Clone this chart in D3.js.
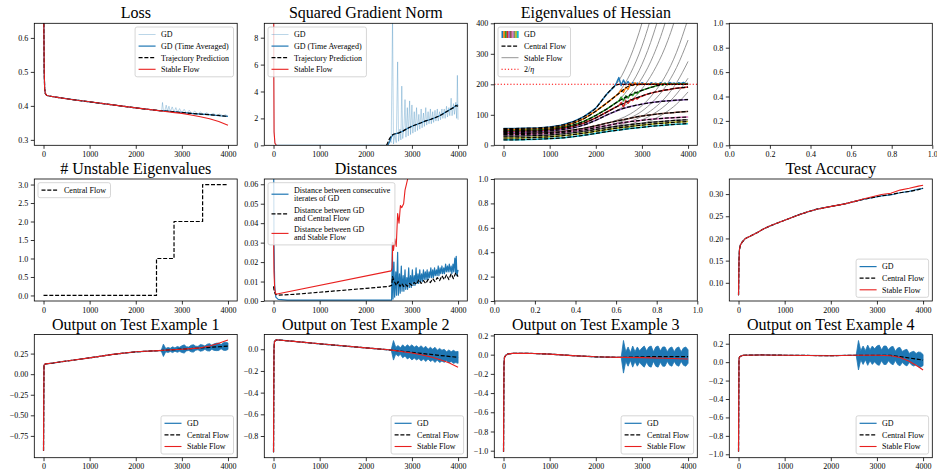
<!DOCTYPE html>
<html><head><meta charset="utf-8">
<script src="https://cdn.jsdelivr.net/npm/d3@7"></script>
<style>
body{margin:0;background:#fff}
svg text{font-family:"Liberation Serif","Times New Roman",serif;fill:#000}
</style></head>
<body><svg id="c" width="937" height="475"></svg>
<script>
// ================= DATA =================
const stepTicks = [0, 1000, 2000, 3000, 4000];
const unitTicks = [0.0, 0.2, 0.4, 0.6, 0.8, 1.0];

// ---- Loss ----
const lossSteps = [0, 8, 15, 25, 40, 70, 120, 300, 600, 1000, 1500, 2000, 2500, 2600, 2800, 3000, 3200, 3400, 3600, 3800, 4000];
const lossStable = [0.95, 0.62, 0.50, 0.45, 0.436, 0.431, 0.429, 0.425, 0.419, 0.412, 0.403, 0.394, 0.386, 0.384, 0.381, 0.378, 0.373, 0.368, 0.362, 0.354, 0.343];
const lossTrajPred = [0.95, 0.62, 0.50, 0.45, 0.436, 0.431, 0.429, 0.425, 0.419, 0.412, 0.403, 0.394, 0.386, 0.385, 0.383, 0.380, 0.378, 0.376, 0.374, 0.372, 0.369];
const lossGDAvg = [0.95, 0.62, 0.50, 0.45, 0.436, 0.431, 0.429, 0.425, 0.419, 0.412, 0.403, 0.394, 0.386, 0.386, 0.383, 0.381, 0.378, 0.376, 0.374, 0.371, 0.369];
const lossGDSteps = [0, 8, 15, 25, 40, 70, 120, 300, 600, 1000, 1500, 2000, 2500, 2560, 2580, 2600, 2630, 2660, 2690, 2720, 2750, 2790, 2830, 2870, 2910, 2950, 3000, 3050, 3100, 3160, 3220, 3280, 3340, 3400, 3470, 3540, 3610, 3680, 3750, 3820, 3890, 3950, 4000];
const lossGD = [0.95, 0.62, 0.50, 0.45, 0.436, 0.431, 0.429, 0.425, 0.419, 0.412, 0.403, 0.394, 0.386, 0.385, 0.410, 0.386, 0.385, 0.402, 0.384, 0.399, 0.383, 0.397, 0.382, 0.395, 0.381, 0.392, 0.380, 0.390, 0.378, 0.387, 0.377, 0.385, 0.375, 0.382, 0.374, 0.380, 0.373, 0.378, 0.372, 0.376, 0.371, 0.374, 0.369];
const lossTicks = [0.3, 0.4, 0.5, 0.6];

// ---- Squared gradient norm ----
const gnStableSteps = [0, 5, 12, 30, 60];
const gnStable = [40, 6, 1.0, 0.15, 0.0];
const gnTrajSteps = [2450, 2470, 2500, 2550, 2600, 2700, 2800, 2900, 3000, 3100, 3200, 3300, 3400, 3500, 3600, 3700, 3800, 3900, 3950, 4000];
const gnTraj = [0.0, 0.15, 0.4, 0.7, 0.82, 0.9, 1.05, 1.25, 1.42, 1.55, 1.68, 1.82, 1.92, 2.05, 2.2, 2.4, 2.6, 2.8, 2.95, 2.9];
const gnAvgSteps = [2480, 2520, 2560, 2600, 2700, 2800, 2900, 3000, 3100, 3200, 3300, 3400, 3500, 3600, 3700, 3800, 3900, 3950, 4000];
const gnAvg = [0.0, 0.3, 0.65, 0.82, 0.9, 1.05, 1.25, 1.42, 1.55, 1.68, 1.82, 1.92, 2.05, 2.2, 2.4, 2.6, 2.8, 2.95, 3.0];
const gnGDSteps = [0, 5, 12, 30, 80, 2480, 2520, 2550, 2580, 2600, 2630, 2660, 2690, 2710, 2740, 2760, 2780, 2800, 2830, 2850, 2870, 2900, 2920, 2950, 2970, 3000, 3020, 3050, 3070, 3100, 3120, 3150, 3170, 3200, 3220, 3250, 3270, 3300, 3320, 3350, 3370, 3400, 3420, 3450, 3470, 3500, 3520, 3550, 3570, 3600, 3620, 3650, 3670, 3700, 3720, 3750, 3770, 3800, 3820, 3850, 3870, 3900, 3920, 3950, 3970, 3985, 4000];
const gnGD = [40, 6, 1.0, 0.15, 0.03, 0.02, 0.5, 0.2, 9.5, 0.1, 0.8, 0.2, 6.2, 0.3, 1.2, 0.4, 4.4, 0.5, 1.5, 3.4, 0.6, 2.8, 0.7, 3.3, 0.8, 3.0, 0.9, 2.5, 1.0, 2.8, 1.1, 2.3, 1.2, 2.7, 1.3, 2.4, 1.4, 2.8, 1.5, 2.5, 1.6, 2.7, 1.6, 2.5, 1.7, 2.6, 1.8, 2.7, 1.8, 2.5, 1.9, 2.7, 2.0, 2.7, 2.0, 2.9, 2.1, 2.8, 2.2, 3.5, 2.2, 3.1, 2.3, 3.2, 2.0, 5.2, 1.9];
const gnTicks = [0, 2, 4, 6, 8];

// ---- Eigenvalues of Hessian ----
const eigSteps = [0, 250, 500, 750, 1000, 1250, 1500, 1750, 2000, 2250, 2500, 2750, 3000, 3250, 3500, 3750, 4000];
const eigCentral = [
  [55, 55, 56, 57, 60, 66, 77, 95, 122, 170, 200, 200, 200, 200, 200, 200, 200],
  [52, 52, 53, 54, 57, 62, 72, 88, 112, 140, 170, 196, 200, 200, 200, 200, 200],
  [48, 48, 49, 50, 53, 58, 66, 79, 98, 120, 145, 165, 180, 192, 200, 200, 200],
  [45, 45, 46, 47, 50, 55, 62, 73, 90, 110, 130, 148, 162, 173, 181, 187, 191],
  [42, 42, 43, 44, 47, 51, 57, 67, 82, 100, 116, 127, 135, 141, 145, 148, 150],
  [38, 38, 39, 40, 42, 45, 50, 56, 64, 73, 81, 89, 96, 101, 105, 108, 111],
  [35, 35, 36, 37, 39, 42, 46, 51, 58, 65, 72, 78, 82, 86, 89, 91, 93],
  [30, 30, 31, 32, 34, 37, 41, 46, 52, 58, 63, 68, 72, 76, 79, 82, 84],
  [24, 24, 25, 26, 28, 31, 35, 40, 46, 52, 57, 62, 66, 70, 73, 76, 78],
  [18, 18, 19, 20, 22, 24, 28, 33, 39, 45, 50, 55, 59, 63, 66, 69, 71]
];
const eigStable = [
  [55, 55, 56, 57, 60, 66, 77, 95, 122, 170, 212, 290, 400, 545, 740, 1000, 1350],
  [52, 52, 53, 54, 57, 62, 72, 88, 112, 140, 174, 235, 325, 450, 620, 850, 1150],
  [48, 48, 49, 50, 53, 58, 66, 79, 98, 120, 148, 195, 265, 365, 500, 690, 950],
  [45, 45, 46, 47, 50, 55, 62, 73, 90, 110, 132, 168, 220, 295, 400, 545, 740],
  [42, 42, 43, 44, 47, 51, 57, 67, 82, 100, 118, 145, 185, 242, 320, 430, 580],
  [38, 38, 39, 40, 42, 45, 50, 56, 64, 73, 85, 103, 130, 170, 225, 305, 415],
  [35, 35, 36, 37, 39, 42, 46, 51, 58, 65, 75, 90, 112, 145, 190, 255, 345],
  [30, 30, 31, 32, 34, 37, 41, 46, 52, 58, 66, 78, 95, 120, 155, 205, 275],
  [24, 24, 25, 26, 28, 31, 35, 40, 46, 52, 59, 69, 83, 103, 130, 168, 220],
  [18, 18, 19, 20, 22, 24, 28, 33, 39, 45, 51, 59, 70, 85, 106, 135, 175]
];
const eigGDSteps = [2400, 2450, 2500, 2550, 2600, 2650, 2700, 2750, 2800, 2850, 2900, 2950, 3000, 3050, 3100, 3150, 3200, 3250, 3300, 3350, 3400, 3450, 3500, 3550, 3600, 3650, 3700, 3750, 3800, 3850, 3900, 3950, 4000];
const eigGDTop = [
  [192, 205, 222, 196, 214, 199, 209, 198, 206, 200, 204, 199, 205, 201, 203, 199, 205, 201, 204, 200, 205, 201, 204, 200, 206, 202, 204, 201, 205, 202, 206, 201, 204],
  [158, 164, 170, 182, 174, 190, 184, 203, 196, 205, 197, 203, 199, 202, 200, 201, 199, 202, 200, 201, 200, 202, 200, 201, 199, 201, 200, 202, 200, 201, 200, 201, 200],
  [136, 141, 145, 158, 147, 162, 155, 168, 163, 174, 170, 177, 180, 183, 185, 188, 190, 192, 195, 197, 201, 197, 203, 198, 202, 199, 201, 200, 201, 200, 201, 200, 200],
  [123, 126, 130, 140, 126, 146, 138, 150, 147, 155, 152, 159, 161, 164, 167, 169, 171, 173, 175, 176, 178, 180, 181, 182, 183, 185, 186, 187, 188, 189, 189, 190, 191]
];
const eigColors = ['#1f77b4', '#ff7f0e', '#2ca02c', '#d62728', '#9467bd', '#8c564b', '#e377c2', '#7f7f7f', '#bcbd22', '#17becf'];
const twoOverEta = 200;
const eigTicks = [0, 100, 200, 300, 400];

// ---- # Unstable eigenvalues ----
const unstableSteps = [0, 2450, 2830, 3450, 4000];
const unstableCount = [0, 1, 2, 3, 3];
const unstableTicks = [0.0, 0.5, 1.0, 1.5, 2.0, 2.5, 3.0];

// ---- Distances ----
const distConsecSteps = [0, 10, 25, 50, 100, 300, 2500, 2560, 2575, 2590, 2610, 2625, 2650, 2665, 2690, 2705, 2730, 2745, 2770, 2785, 2810, 2825, 2850, 2865, 2890, 2905, 2930, 2945, 2970, 2985, 3010, 3025, 3050, 3065, 3090, 3105, 3130, 3145, 3170, 3185, 3210, 3225, 3250, 3265, 3290, 3305, 3330, 3345, 3370, 3385, 3410, 3425, 3450, 3465, 3490, 3505, 3530, 3545, 3570, 3585, 3610, 3625, 3650, 3665, 3690, 3705, 3730, 3745, 3770, 3785, 3810, 3825, 3850, 3865, 3890, 3905, 3930, 3945, 3960, 3975, 4000];
const distConsec = [0.09, 0.03, 0.008, 0.002, 0.0008, 0.0004, 0.0004, 0.0005, 0.03, 0.001, 0.02, 0.002, 0.015, 0.003, 0.025, 0.003, 0.014, 0.004, 0.018, 0.005, 0.013, 0.005, 0.016, 0.006, 0.012, 0.006, 0.017, 0.007, 0.013, 0.007, 0.016, 0.008, 0.013, 0.008, 0.017, 0.009, 0.014, 0.009, 0.016, 0.01, 0.014, 0.01, 0.016, 0.011, 0.015, 0.011, 0.016, 0.011, 0.015, 0.012, 0.017, 0.012, 0.016, 0.012, 0.017, 0.013, 0.016, 0.013, 0.018, 0.013, 0.017, 0.014, 0.018, 0.014, 0.017, 0.014, 0.019, 0.015, 0.018, 0.015, 0.019, 0.015, 0.018, 0.014, 0.019, 0.015, 0.022, 0.014, 0.023, 0.013, 0.016];
const distCentralSteps = [0, 15, 40, 100, 500, 1000, 1500, 2000, 2500, 2560, 2580, 2600, 2630, 2660, 2700, 2740, 2780, 2820, 2860, 2900, 2950, 3000, 3050, 3100, 3150, 3200, 3250, 3300, 3350, 3400, 3450, 3500, 3550, 3600, 3650, 3700, 3750, 3800, 3850, 3900, 3950, 4000];
const distCentral = [0.0075, 0.005, 0.0035, 0.003, 0.0035, 0.0045, 0.0055, 0.0065, 0.0075, 0.008, 0.0125, 0.011, 0.0095, 0.008, 0.01, 0.0075, 0.009, 0.0075, 0.0085, 0.0075, 0.009, 0.008, 0.0095, 0.0085, 0.011, 0.009, 0.0105, 0.009, 0.011, 0.0095, 0.0115, 0.01, 0.012, 0.0105, 0.013, 0.011, 0.0135, 0.011, 0.014, 0.0115, 0.0145, 0.0125];
const distStableSteps = [0, 10, 25, 50, 2550, 2570, 2585, 2600, 2630, 2660, 2690, 2720, 2750, 2780, 2820, 2850, 2880, 2920, 3000];
const distStable = [0.035, 0.015, 0.006, 0.0035, 0.0155, 0.017, 0.03, 0.026, 0.032, 0.028, 0.045, 0.04, 0.049, 0.048, 0.05, 0.057, 0.06, 0.064, 0.072];
const distTicks = [0.00, 0.01, 0.02, 0.03, 0.04, 0.05, 0.06];

// ---- Test accuracy ----
const accSteps = [0, 10, 20, 40, 80, 150, 250, 400, 550, 700, 900, 1100, 1300, 1500, 1700, 1900, 2100, 2300, 2500, 2700, 2900, 3100, 3300, 3500, 3700, 3900, 4000];
const accGD = [0.072, 0.15, 0.175, 0.185, 0.192, 0.2, 0.205, 0.213, 0.222, 0.229, 0.237, 0.245, 0.253, 0.26, 0.266, 0.27, 0.274, 0.278, 0.283, 0.288, 0.292, 0.296, 0.298, 0.303, 0.306, 0.311, 0.313];
const accCentral = [0.072, 0.15, 0.175, 0.185, 0.192, 0.2, 0.205, 0.213, 0.222, 0.229, 0.237, 0.245, 0.253, 0.26, 0.266, 0.27, 0.274, 0.278, 0.283, 0.288, 0.292, 0.296, 0.299, 0.303, 0.306, 0.31, 0.313];
const accStable = [0.072, 0.15, 0.175, 0.185, 0.192, 0.2, 0.205, 0.213, 0.222, 0.229, 0.237, 0.245, 0.253, 0.26, 0.266, 0.27, 0.274, 0.278, 0.283, 0.289, 0.294, 0.299, 0.302, 0.309, 0.313, 0.318, 0.32];
const accTicks = [0.10, 0.15, 0.20, 0.25, 0.30];

// ---- Outputs on test examples ----
const oscSteps = [2550, 2600, 2650, 2700, 2750, 2800, 2850, 2900, 2950, 3000, 3050, 3100, 3150, 3200, 3250, 3300, 3350, 3400, 3450, 3500, 3550, 3600, 3650, 3700, 3750, 3800, 3850, 3900, 3950, 4000];

const out1Steps = [0, 5, 10, 20, 50, 200, 500, 1000, 1500, 2000, 2500, 2600, 3000, 3200, 3400, 3600, 3800, 4000];
const out1Central = [-0.93, -0.3, 0.1, 0.12, 0.125, 0.135, 0.16, 0.198, 0.24, 0.272, 0.286, 0.29, 0.304, 0.311, 0.319, 0.326, 0.333, 0.34];
const out1Stable = [-0.93, -0.3, 0.1, 0.12, 0.125, 0.135, 0.16, 0.198, 0.24, 0.272, 0.286, 0.29, 0.302, 0.31, 0.32, 0.342, 0.375, 0.415];
const out1GDMid = [0.286, 0.29, 0.292, 0.294, 0.295, 0.297, 0.299, 0.301, 0.302, 0.304, 0.306, 0.308, 0.309, 0.311, 0.313, 0.315, 0.317, 0.319, 0.32, 0.322, 0.324, 0.326, 0.327, 0.329, 0.331, 0.333, 0.334, 0.336, 0.338, 0.34];
const out1GDAmp = [0, 0.075, 0.02, 0.03, 0.02, 0.035, 0.02, 0.035, 0.025, 0.04, 0.05, 0.025, 0.02, 0.04, 0.045, 0.025, 0.02, 0.04, 0.035, 0.02, 0.04, 0.045, 0.025, 0.04, 0.045, 0.045, 0.025, 0.045, 0.05, 0.04];
const out1Ticks = [-0.75, -0.50, -0.25, 0.00, 0.25];

const out2Steps = [0, 5, 10, 20, 50, 100, 500, 1000, 1500, 2000, 2500, 2600, 3000, 3200, 3400, 3600, 3800, 4000];
const out2Central = [-0.95, -0.4, 0.0, 0.07, 0.085, 0.086, 0.07, 0.05, 0.032, 0.013, -0.005, -0.01, -0.029, -0.038, -0.047, -0.057, -0.066, -0.075];
const out2Stable = [-0.95, -0.4, 0.0, 0.07, 0.085, 0.086, 0.07, 0.05, 0.032, 0.013, -0.005, -0.01, -0.035, -0.05, -0.07, -0.095, -0.125, -0.165];
const out2GDMid = [-0.005, -0.01, -0.013, -0.015, -0.017, -0.019, -0.022, -0.024, -0.026, -0.029, -0.031, -0.033, -0.036, -0.038, -0.04, -0.043, -0.045, -0.047, -0.05, -0.052, -0.054, -0.057, -0.059, -0.061, -0.064, -0.066, -0.068, -0.07, -0.073, -0.075];
const out2GDAmp = [0, 0.09, 0.03, 0.05, 0.03, 0.06, 0.04, 0.065, 0.05, 0.07, 0.05, 0.065, 0.05, 0.07, 0.05, 0.07, 0.045, 0.065, 0.05, 0.07, 0.045, 0.065, 0.05, 0.06, 0.04, 0.06, 0.045, 0.06, 0.05, 0.055];
const out2Ticks = [-0.8, -0.6, -0.4, -0.2, 0.0];

const out3Steps = [0, 5, 10, 20, 50, 100, 200, 500, 1000, 1500, 2000, 2500, 2600, 3000, 3500, 4000];
const out3Central = [-1.01, -0.5, -0.1, -0.03, -0.005, 0.008, 0.013, 0.015, 0.006, -0.01, -0.022, -0.028, -0.028, -0.022, -0.02, -0.02];
const out3Stable = [-1.01, -0.5, -0.1, -0.03, -0.005, 0.008, 0.013, 0.015, 0.006, -0.01, -0.022, -0.028, -0.028, -0.031, -0.038, -0.045];
const out3GDMid = [-0.028, -0.022, -0.02, -0.02, -0.02, -0.02, -0.02, -0.02, -0.02, -0.02, -0.02, -0.02, -0.02, -0.02, -0.02, -0.02, -0.02, -0.02, -0.02, -0.02, -0.02, -0.02, -0.02, -0.02, -0.02, -0.02, -0.02, -0.02, -0.02, -0.02];
const out3GDAmp = [0, 0.17, 0.05, 0.1, 0.04, 0.11, 0.05, 0.1, 0.06, 0.09, 0.11, 0.06, 0.1, 0.11, 0.05, 0.1, 0.11, 0.06, 0.1, 0.1, 0.05, 0.09, 0.1, 0.05, 0.09, 0.1, 0.05, 0.09, 0.1, 0.07];
const out3Ticks = [-1.0, -0.8, -0.6, -0.4, -0.2, 0.0, 0.2];

const out4Steps = [0, 5, 10, 20, 50, 100, 500, 1000, 2000, 2500, 3000, 3300, 3500, 3700, 3900, 4000];
const out4Central = [-0.97, -0.4, 0.03, 0.055, 0.065, 0.075, 0.078, 0.075, 0.07, 0.075, 0.075, 0.073, 0.06, 0.045, 0.03, 0.022];
const out4Stable = [-0.97, -0.4, 0.03, 0.055, 0.065, 0.075, 0.078, 0.075, 0.07, 0.075, 0.075, 0.07, 0.05, 0.01, -0.05, -0.085];
const out4GDMid = [0.075, 0.075, 0.075, 0.075, 0.075, 0.075, 0.075, 0.075, 0.075, 0.075, 0.075, 0.075, 0.075, 0.075, 0.075, 0.075, 0.071, 0.068, 0.064, 0.06, 0.056, 0.052, 0.049, 0.045, 0.041, 0.037, 0.034, 0.03, 0.026, 0.022];
const out4GDAmp = [0, 0.16, 0.05, 0.1, 0.05, 0.11, 0.06, 0.1, 0.07, 0.1, 0.11, 0.06, 0.1, 0.1, 0.06, 0.09, 0.1, 0.05, 0.09, 0.1, 0.06, 0.08, 0.09, 0.05, 0.07, 0.08, 0.06, 0.08, 0.08, 0.06];
const out4Ticks = [-1.0, -0.8, -0.6, -0.4, -0.2, 0.0, 0.2];

// ================= DRAWING =================
const BLUE = '#1f77b4', RED = '#e8201f', GRAY = '#8a8a8a';
const svg = d3.select('#c');
const COL = [[34.3, 237.2], [264.3, 467.3], [494.3, 697.3], [729.3, 932.3]];
const ROW = [[23.3, 145.3], [179, 301], [334.5, 457.7]];
const STEP_DOM = [-200, 4200];
let clipN = 0;

function styleAxis(s) {
  s.attr('font-family', null).attr('font-size', null);
  s.select('.domain').remove();
  s.selectAll('.tick line').attr('stroke', '#000').attr('stroke-width', 0.8);
  s.selectAll('.tick text').attr('font-size', 8).attr('fill', '#000');
}

function axes(col, row, xDom, yDom, xTicks, xFmt, yTicks, yFmt, title) {
  const [l, r] = COL[col], [t, b] = ROW[row];
  const x = d3.scaleLinear().domain(xDom).range([l, r]);
  const y = d3.scaleLinear().domain(yDom).range([b, t]);
  const g = svg.append('g');
  const id = 'clip' + (clipN++);
  g.append('clipPath').attr('id', id).append('rect')
    .attr('x', l).attr('y', t).attr('width', r - l).attr('height', b - t);
  const plot = g.append('g').attr('clip-path', `url(#${id})`);
  g.append('g').attr('transform', `translate(0,${b})`)
    .call(d3.axisBottom(x).tickValues(xTicks).tickFormat(xFmt).tickSize(3.5).tickPadding(2.5)).call(styleAxis);
  g.append('g').attr('transform', `translate(${l},0)`)
    .call(d3.axisLeft(y).tickValues(yTicks).tickFormat(yFmt).tickSize(3.5).tickPadding(2.5)).call(styleAxis);
  g.append('rect').attr('x', l).attr('y', t).attr('width', r - l).attr('height', b - t)
    .attr('fill', 'none').attr('stroke', '#000').attr('stroke-width', 0.8);
  if (title) g.append('text').attr('x', (l + r) / 2).attr('y', t - 5)
    .attr('text-anchor', 'middle').attr('font-size', 16).text(title);
  return { g, plot, x, y, l, r, t, b };
}

function line(A, xs, ys, st, curve) {
  A.plot.append('path').datum(d3.zip(xs, ys))
    .attr('d', d3.line().x(d => A.x(d[0])).y(d => A.y(d[1])).curve(curve || d3.curveLinear))
    .attr('fill', 'none').attr('stroke', st.color).attr('stroke-width', st.width || 1.2)
    .attr('stroke-opacity', st.opacity == null ? 1 : st.opacity)
    .attr('stroke-dasharray', st.dash || null).attr('stroke-linejoin', 'round');
}
function linePts(A, pts, st, curve) {
  line(A, pts.map(p => p[0]), pts.map(p => p[1]), st, curve);
}
function band(A, xs, mid, amp, color) {
  const pts = d3.zip(xs, mid, amp);
  A.plot.append('path').datum(pts)
    .attr('d', d3.area().x(d => A.x(d[0])).y0(d => A.y(d[1] - d[2])).y1(d => A.y(d[1] + d[2])))
    .attr('fill', color).attr('stroke', color).attr('stroke-width', 0.8);
}

const S_GD = { color: BLUE, width: 1.2 };
const S_GDL = { color: BLUE, width: 1.0, opacity: 0.3 };
const S_CF = { color: '#000', width: 1.2, dash: '4,1.8' };
const S_SF = { color: RED, width: 1.1 };
const S_GRAY = { color: GRAY, width: 0.9 };

function legend(A, items, loc) {
  const fs = 8, lineH = 8, gap = 3.6, pad = 3.5, hl = 17, hgap = 5.5, m = 3.7;
  const g = A.g.append('g');
  const rows = items.map(it => Object.assign({}, it, { lines: Array.isArray(it.label) ? it.label : [it.label] }));
  let maxW = 0;
  rows.forEach(rw => rw.lines.forEach(s => {
    const t = g.append('text').attr('font-size', fs).text(s);
    maxW = Math.max(maxW, t.node().getComputedTextLength()); t.remove();
  }));
  const hs = rows.map(rw => rw.lines.length * lineH);
  const H = 2 * pad + d3.sum(hs) + gap * (rows.length - 1);
  const W = pad + hl + hgap + maxW + pad + 1;
  let bx, by;
  if (loc === 'ur') { bx = A.r - m - W; by = A.t + m; }
  else if (loc === 'ul') { bx = A.l + m; by = A.t + m; }
  else { bx = A.r - m - W; by = A.b - m - H; }
  g.append('rect').attr('x', bx).attr('y', by).attr('width', W).attr('height', H).attr('rx', 2)
    .attr('fill', '#fff').attr('fill-opacity', 0.8).attr('stroke', '#cccccc').attr('stroke-width', 0.8);
  let cy = by + pad;
  rows.forEach((rw, i) => {
    const mid = cy + hs[i] / 2, hx = bx + pad;
    if (rw.stripes) {
      rw.stripes.forEach((c, k) => g.append('rect').attr('x', hx + k * hl / rw.stripes.length).attr('y', mid - 3.5)
        .attr('width', hl / rw.stripes.length + 0.2).attr('height', 7).attr('fill', c));
    } else {
      g.append('line').attr('x1', hx).attr('x2', hx + hl).attr('y1', mid).attr('y2', mid)
        .attr('stroke', rw.st.color).attr('stroke-width', rw.st.width || 1.2)
        .attr('stroke-opacity', rw.st.opacity == null ? 1 : rw.st.opacity)
        .attr('stroke-dasharray', rw.st.dash || null);
    }
    rw.lines.forEach((s, j) => {
      const t = g.append('text').attr('x', hx + hl + hgap).attr('y', cy + lineH * (j + 0.5))
        .attr('dy', '0.35em').attr('font-size', fs);
      if (s.indexOf('η') >= 0) {
        const parts = s.split('η');
        t.append('tspan').text(parts[0]);
        t.append('tspan').attr('font-style', 'italic').text('η');
        if (parts[1]) t.append('tspan').text(parts[1]);
      } else t.text(s);
    });
    cy += hs[i] + gap;
  });
}

const fInt = d3.format('d'), f1 = d3.format('.1f'), f2 = d3.format('.2f');

// ---- Panel: Loss ----
{
  const A = axes(0, 0, STEP_DOM, [0.284, 0.643], stepTicks, fInt, lossTicks, f1, 'Loss');
  line(A, lossGDSteps, lossGD, S_GDL);
  line(A, lossSteps, lossGDAvg, S_GD);
  line(A, lossSteps, lossTrajPred, S_CF);
  line(A, lossSteps, lossStable, S_SF);
  legend(A, [{ label: 'GD', st: S_GDL }, { label: 'GD (Time Averaged)', st: S_GD },
    { label: 'Trajectory Prediction', st: S_CF }, { label: 'Stable Flow', st: S_SF }], 'ur');
}
// ---- Panel: Squared gradient norm ----
{
  const A = axes(1, 0, STEP_DOM, [0, 9.07], stepTicks, fInt, gnTicks, fInt, 'Squared Gradient Norm');
  line(A, gnGDSteps, gnGD, S_GDL);
  line(A, gnAvgSteps, gnAvg, S_GD);
  line(A, gnTrajSteps, gnTraj, S_CF);
  line(A, gnStableSteps, gnStable, S_SF);
  legend(A, [{ label: 'GD', st: S_GDL }, { label: 'GD (Time Averaged)', st: S_GD },
    { label: 'Trajectory Prediction', st: S_CF }, { label: 'Stable Flow', st: S_SF }], 'ul');
}
// ---- Panel: Eigenvalues ----
{
  const A = axes(2, 0, STEP_DOM, [0, 400], stepTicks, fInt, eigTicks, fInt, 'Eigenvalues of Hessian');
  eigStable.forEach(s => line(A, eigSteps, s, S_GRAY, d3.curveMonotoneX));
  eigCentral.forEach((c, i) => {
    let pts = d3.zip(eigSteps, c);
    if (i < eigGDTop.length) pts = pts.filter(p => p[0] < eigGDSteps[0]).concat(d3.zip(eigGDSteps, eigGDTop[i]));
    linePts(A, pts, { color: eigColors[i], width: 1.5 }, i < eigGDTop.length ? d3.curveLinear : d3.curveMonotoneX);
  });
  eigCentral.forEach(c => line(A, eigSteps, c, S_CF, d3.curveMonotoneX));
  A.plot.append('line').attr('x1', A.l).attr('x2', A.r).attr('y1', A.y(twoOverEta)).attr('y2', A.y(twoOverEta))
    .attr('stroke', '#ff0000').attr('stroke-width', 1.1).attr('stroke-dasharray', '1.2,2');
  legend(A, [{ label: 'GD', stripes: eigColors }, { label: 'Central Flow', st: S_CF },
    { label: 'Stable Flow', st: S_GRAY },
    { label: '2/η', st: { color: '#ff0000', width: 1.1, dash: '1.2,2' } }], 'ul');
}
// ---- Empty panels ----
axes(3, 0, [0, 1], [0, 1], unitTicks, f1, unitTicks, f1, null);
axes(2, 1, [0, 1], [0, 1], unitTicks, f1, unitTicks, f1, null);

// ---- Panel: # Unstable ----
{
  const A = axes(0, 1, STEP_DOM, [-0.15, 3.15], stepTicks, fInt, unstableTicks, f1, '# Unstable Eigenvalues');
  line(A, unstableSteps, unstableCount, S_CF, d3.curveStepAfter);
  legend(A, [{ label: 'Central Flow', st: S_CF }], 'ul');
}
// ---- Panel: Distances ----
{
  const A = axes(1, 1, STEP_DOM, [0, 0.0627], stepTicks, fInt, distTicks, f2, 'Distances');
  line(A, distConsecSteps, distConsec, S_GD);
  line(A, distCentralSteps, distCentral, S_CF);
  line(A, distStableSteps, distStable, S_SF);
  legend(A, [{ label: ['Distance between consecutive', 'iterates of GD'], st: S_GD },
    { label: ['Distance between GD', 'and Central Flow'], st: S_CF },
    { label: ['Distance between GD', 'and Stable Flow'], st: S_SF }], 'ul');
}
// ---- Panel: Test accuracy ----
{
  const A = axes(3, 1, STEP_DOM, [0.059, 0.334], stepTicks, fInt, accTicks, f2, 'Test Accuracy');
  line(A, accSteps, accGD, S_GD);
  line(A, accSteps, accCentral, S_CF);
  line(A, accSteps, accStable, S_SF);
  legend(A, [{ label: 'GD', st: S_GD }, { label: 'Central Flow', st: S_CF }, { label: 'Stable Flow', st: S_SF }], 'lr');
}
// ---- Panels: Outputs ----
const outs = [
  { steps: out1Steps, c: out1Central, s: out1Stable, mid: out1GDMid, amp: out1GDAmp, ticks: out1Ticks, fmt: f2, dom: [-1.015, 0.482] },
  { steps: out2Steps, c: out2Central, s: out2Stable, mid: out2GDMid, amp: out2GDAmp, ticks: out2Ticks, fmt: f1, dom: [-1.0, 0.136] },
  { steps: out3Steps, c: out3Central, s: out3Stable, mid: out3GDMid, amp: out3GDAmp, ticks: out3Ticks, fmt: f1, dom: [-1.073, 0.21] },
  { steps: out4Steps, c: out4Central, s: out4Stable, mid: out4GDMid, amp: out4GDAmp, ticks: out4Ticks, fmt: f1, dom: [-1.037, 0.30] }
];
outs.forEach((o, i) => {
  const A = axes(i, 2, STEP_DOM, o.dom, stepTicks, fInt, o.ticks, o.fmt, 'Output on Test Example ' + (i + 1));
  line(A, o.steps, o.c, S_GD);
  band(A, oscSteps, o.mid, o.amp, BLUE);
  line(A, o.steps, o.c, S_CF);
  line(A, o.steps, o.s, S_SF);
  legend(A, [{ label: 'GD', st: S_GD }, { label: 'Central Flow', st: S_CF }, { label: 'Stable Flow', st: S_SF }], 'lr');
});
</script>
</body></html>
